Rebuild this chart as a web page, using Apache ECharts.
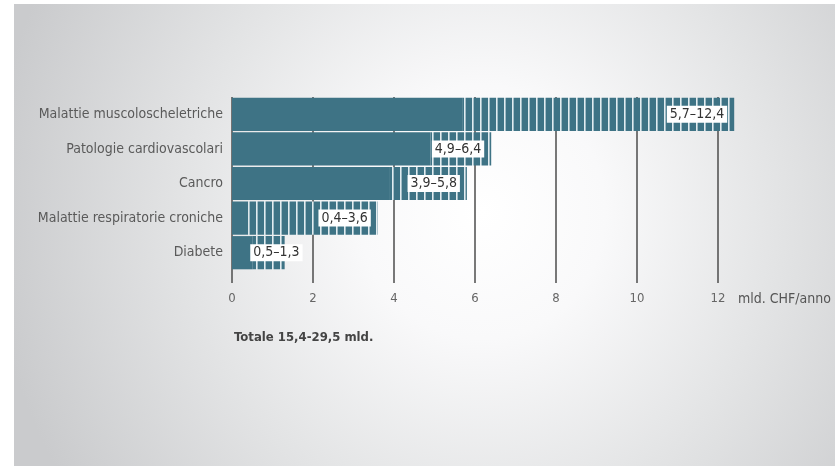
<!DOCTYPE html>
<html>
<head>
<meta charset="utf-8">
<script src="https://cdn.jsdelivr.net/npm/echarts@6/dist/echarts.min.js"></script>
<style>
  html, body { margin: 0; padding: 0; background: #ffffff; }
  #bg {
    position: absolute; left: 14px; top: 4px; right: 0; bottom: 0;
    background: radial-gradient(ellipse 60% 110% at 57% 45%, #ffffff 0%, #f9f9fa 25%, #e3e4e5 60%, #cacbcd 100%);
  }
  #chart { position: absolute; left: 0; top: 0; width: 835px; height: 466px; }
</style>
</head>
<body>
<div id="bg"></div>
<div id="chart"></div>
<script>
// ---- data ----
const categories = [
  'Malattie muscoloscheletriche',
  'Patologie cardiovascolari',
  'Cancro',
  'Malattie respiratorie croniche',
  'Diabete'
];
const minValues = [5.7, 4.9, 3.9, 0.4, 0.5];
const maxValues = [12.4, 6.4, 5.8, 3.6, 1.3];
const xTickValues = [0, 2, 4, 6, 8, 10, 12];
const unitLabel = 'mld. CHF/anno';
const totalLabel = 'Totale 15,4-29,5 mld.';

// ---- layout / style (not data) ----
const labelPlacement = ['insideRight', 'insideRight', 'insideRight', 'insideRight', 'insideLeft'];
const labelDistance = [7, 7, 7, 7, -2];
const teal = '#3e7385';
const lineColor = '#4d4d4d';
const fontFam = '"DejaVu Sans Condensed", "DejaVu Sans", sans-serif';

function fmt(v) { return v.toFixed(1).replace('.', ','); }

// stripe pattern for the uncertainty range
const pc = document.createElement('canvas');
pc.width = 8; pc.height = 10;
const pctx = pc.getContext('2d');
pctx.fillStyle = teal;
pctx.fillRect(0, 0, 8, 10);
pctx.fillStyle = 'rgba(235,242,245,0.95)';
pctx.fillRect(0, 0, 1.6, 10);

const rangeData = categories.map((c, i) => ({
  value: +(maxValues[i] - minValues[i]).toFixed(2),
  label: {
    show: true,
    position: labelPlacement[i],
    distance: labelDistance[i],
    formatter: fmt(minValues[i]) + '–' + fmt(maxValues[i])
  }
}));

const chart = echarts.init(document.getElementById('chart'), null, { renderer: 'canvas' });
chart.setOption({
  animation: false,
  backgroundColor: 'transparent',
  textStyle: { fontFamily: fontFam },
  title: {
    text: totalLabel,
    left: 229, top: 326,
    textStyle: { fontFamily: fontFam, fontSize: 13, fontWeight: 'bold', color: '#444' }
  },
  grid: { left: 232, right: 117, top: 97, bottom: 196, containLabel: false },
  xAxis: {
    type: 'value',
    z: 0,
    min: xTickValues[0],
    max: xTickValues[xTickValues.length - 1],
    interval: xTickValues[1] - xTickValues[0],
    axisLine: { show: false },
    axisTick: { show: true, length: 13, lineStyle: { color: lineColor, width: 1.5 } },
    splitLine: { show: true, lineStyle: { color: lineColor, width: 1.5 } },
    axisLabel: { margin: 22, color: '#666', fontSize: 13, fontFamily: fontFam },
    name: unitLabel,
    nameLocation: 'end',
    nameGap: 20,
    nameTextStyle: { color: '#555', fontSize: 14, fontFamily: fontFam, verticalAlign: 'top', padding: [22, 0, 0, 0] }
  },
  yAxis: {
    type: 'category',
    inverse: true,
    data: categories,
    axisLine: { show: false },
    axisTick: { show: false },
    axisLabel: { margin: 9, color: '#5a5a5a', fontSize: 14, fontFamily: fontFam }
  },
  series: [
    {
      type: 'bar', stack: 'r', data: minValues, z: 5,
      barCategoryGap: '4%', clip: false, silent: true,
      itemStyle: { color: teal }
    },
    {
      type: 'bar', stack: 'r', data: rangeData, z: 5,
      barCategoryGap: '4%', clip: false, silent: true,
      itemStyle: { color: { image: pc, repeat: 'repeat' } },
      label: {
        show: true, color: '#333', fontSize: 14, fontFamily: fontFam,
        backgroundColor: '#ffffff', padding: [2, 3, 1, 3]
      }
    }
  ]
});
</script>
</body>
</html>
